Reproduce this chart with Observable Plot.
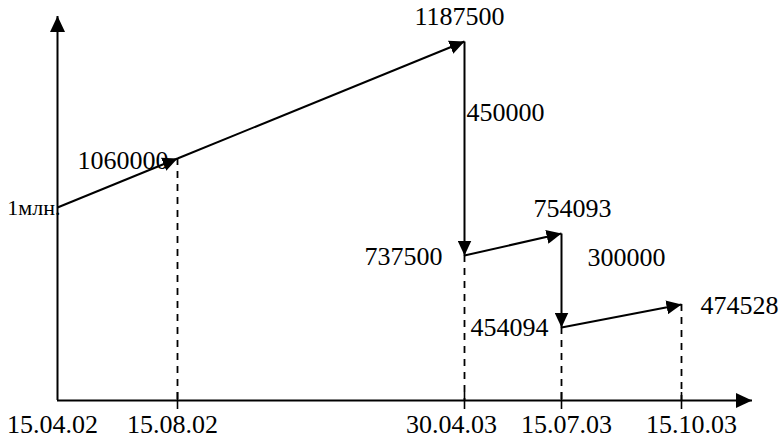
<!DOCTYPE html>
<html><head><meta charset="utf-8">
<script src="https://cdn.jsdelivr.net/npm/d3@7"></script>
<script src="https://cdn.jsdelivr.net/npm/@observablehq/plot@0.6"></script>
<style>
html,body{margin:0;padding:0;background:#fff}
svg, svg text{font-family:"Liberation Serif","Times New Roman",serif !important;}
</style>
</head><body><div id="chart"></div>
<script>
// ---- data ----
const dateLabels = ["15.04.02", "15.08.02", "30.04.03", "15.07.03", "15.10.03"];
const pathDates = ["15.04.02", "15.08.02", "30.04.03", "30.04.03", "15.07.03", "15.07.03", "15.10.03"];
const pathValues = [1000000, 1060000, 1187500, 737500, 754093, 454094, 474528];
const pathLabels = ["1млн.", "1060000", "1187500", "737500", "754093", "454094", "474528"];
const paymentDates = ["30.04.03", "15.07.03"];
const paymentFromValues = [1187500, 754093];
const paymentLabels = ["450000", "300000"];

// ---- derived tables ----
const parse = s => { const [d, m, y] = s.split(".").map(Number); return new Date(Date.UTC(2000 + y, m - 1, d)); };
const points = pathDates.map((d, i) => ({date: parse(d), value: pathValues[i], label: pathLabels[i]}));
const segments = points.slice(1).map((p, i) => ({x1: points[i].date, y1: points[i].value, x2: p.date, y2: p.value}));
const ticks = dateLabels.map(s => ({date: parse(s), label: s}));
// lowest point on each date after the start gets a dashed drop line
const drops = ticks.slice(1).map(t => ({date: t.date, value: d3.min(points.filter(p => +p.date === +t.date), p => p.value)}));
const payments = paymentDates.map((d, i) => ({date: parse(d), value: paymentFromValues[i], label: paymentLabels[i]}));

// ---- layout / style (schematic, piecewise scales) ----
const xRange = [57, 177, 464, 561, 681];
const yDomain = [0, ...Array.from(new Set(pathValues)).sort((a, b) => a - b)];
const yRange = [400, 327, 304, 255, 233, 207, 158, 41];
const FONT = "Liberation Serif";
const pointLabelStyle = [
  {textAnchor: "end", dx: 3, dy: 0, fontSize: 22},
  {textAnchor: "end", dx: -9, dy: 2},
  {textAnchor: "middle", dx: -5, dy: -25},
  {textAnchor: "end", dx: -22, dy: 1},
  {textAnchor: "middle", dx: 11, dy: -25},
  {textAnchor: "end", dx: -13, dy: 0},
  {textAnchor: "start", dx: 19, dy: 1}
];
const paymentLabelStyle = [
  {textAnchor: "start", dx: 2, dy: 71},
  {textAnchor: "start", dx: 26, dy: 24}
];
const tickLabelDx = [-5, -5, -13, 5, 10];

const marks = [
  // axes
  Plot.ruleY([0], {stroke: "black", strokeWidth: 2, className: "xaxisline"}),
  Plot.ruleX([ticks[0].date], {stroke: "black", strokeWidth: 2, className: "yaxisline"}),
  Plot.ruleX(ticks.slice(1), {x: "date", y1: 0, y2: 0, insetTop: -8, insetBottom: -9, stroke: "black", strokeWidth: 1.6}),
  // dashed drop lines
  Plot.ruleX(drops, {x: "date", y1: "value", y2: 0, stroke: "black", strokeWidth: 1.8, strokeDasharray: "7,6"}),
  // flow arrows
  Plot.link(segments, {x1: "x1", y1: "y1", x2: "x2", y2: "y2", stroke: "black", strokeWidth: 2, className: "flow"}),
  // tick labels
  ...ticks.map((t, i) => Plot.text([t], {x: "date", y: 0, text: "label", lineAnchor: "top", dy: 14, dx: tickLabelDx[i], fontSize: 26, fontFamily: FONT, fill: "black"})),
  // point labels
  ...points.map((p, i) => Plot.text([p], {x: "date", y: "value", text: "label", fontSize: 26, fontFamily: FONT, fill: "black", ...pointLabelStyle[i]})),
  // payment labels
  ...payments.map((p, i) => Plot.text([p], {x: "date", y: "value", text: "label", fontSize: 26, fontFamily: FONT, fill: "black", ...paymentLabelStyle[i]}))
];

const svg = Plot.plot({
  width: 781,
  height: 438,
  marginLeft: 57,
  marginRight: 29,
  marginTop: 16,
  marginBottom: 38,
  x: {type: "utc", domain: dateLabels.map(parse), range: xRange, axis: null},
  y: {type: "linear", domain: yDomain, range: yRange, axis: null},
  style: {fontFamily: FONT, fontSize: "26px", background: "white", color: "black", overflow: "visible"},
  marks
});

// filled triangular arrowheads
const ns = "http://www.w3.org/2000/svg";
const defs = document.createElementNS(ns, "defs");
function addMarker(id, len, wid) {
  const m = document.createElementNS(ns, "marker");
  m.setAttribute("id", id);
  m.setAttribute("viewBox", `0 0 ${len} ${wid}`);
  m.setAttribute("refX", len);
  m.setAttribute("refY", wid / 2);
  m.setAttribute("markerWidth", len);
  m.setAttribute("markerHeight", wid);
  m.setAttribute("markerUnits", "userSpaceOnUse");
  m.setAttribute("orient", "auto-start-reverse");
  const p = document.createElementNS(ns, "path");
  p.setAttribute("d", `M0,0L${len},${wid / 2}L0,${wid}Z`);
  p.setAttribute("fill", "black");
  m.appendChild(p);
  defs.appendChild(m);
}
addMarker("head", 15, 14);
addMarker("axishead", 16, 15);
svg.insertBefore(defs, svg.firstChild);
function mark(cls, attr, url) {
  svg.querySelectorAll(`.${cls}`).forEach(g => {
    const els = g.matches("path,line") ? [g] : g.querySelectorAll("path,line");
    els.forEach(el => el.setAttribute(attr, url));
  });
}
mark("flow", "marker-end", "url(#head)");
mark("xaxisline", "marker-end", "url(#axishead)");
mark("yaxisline", "marker-start", "url(#axishead)");

document.getElementById("chart").appendChild(svg);
</script>
</body></html>
